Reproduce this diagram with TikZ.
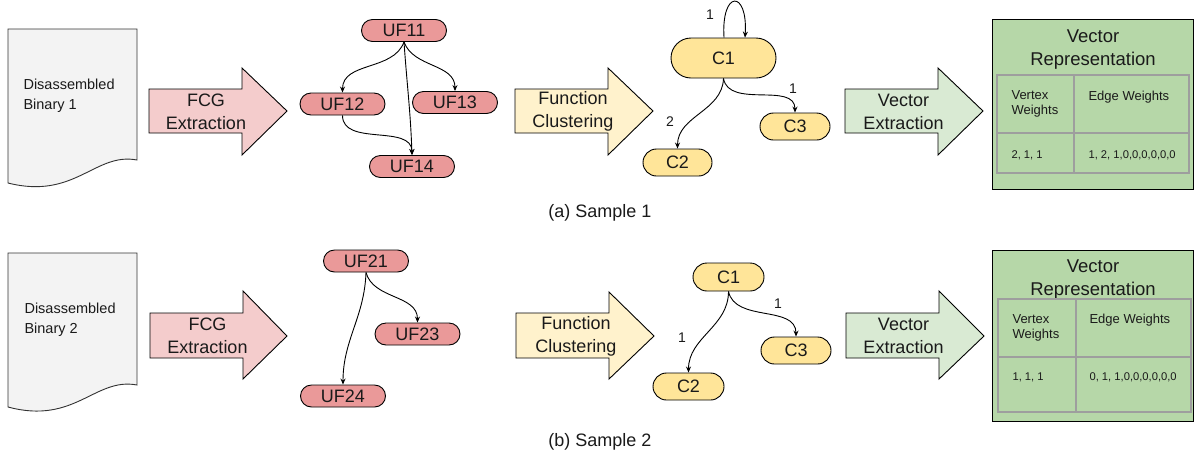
\documentclass[tikz,border=0pt]{standalone}
\usepackage{fontspec}
\setmainfont{Liberation Sans}
\usetikzlibrary{shapes.misc,arrows.meta}
\definecolor{docfill}{HTML}{F3F3F3}
\definecolor{redarrow}{HTML}{F4CCCC}
\definecolor{rednode}{HTML}{EA9999}
\definecolor{yelarrow}{HTML}{FFF2CC}
\definecolor{yelnode}{HTML}{FFE599}
\definecolor{grnarrow}{HTML}{D9EAD3}
\definecolor{grnbox}{HTML}{B6D7A8}
\definecolor{gridgray}{HTML}{9E9E9E}
\definecolor{txt}{HTML}{1A1A1A}
\tikzset{
  big/.style={font=\fontsize{18}{23}\selectfont, text=txt},
  mid/.style={font=\fontsize{14.5}{20}\selectfont, text=txt},
  small/.style={font=\fontsize{13}{14.5}\selectfont, text=txt},
  tiny/.style={font=\fontsize{11.2}{13}\selectfont, text=txt},
  lbl/.style={font=\fontsize{14}{16}\selectfont, text=txt},
  pill/.style={rounded rectangle, draw=black, line width=0.9pt, inner sep=0pt, big},
  ufnode/.style={pill, fill=rednode, minimum width=85pt, minimum height=22pt},
  cnode/.style={pill, fill=yelnode},
  fat/.style={draw=black, line width=0.9pt, line join=miter},
  docshape/.style={draw=black!80, line width=0.9pt, fill=docfill},
  edge/.style={draw=black, line width=0.9pt, -{Stealth[length=6pt,width=5pt,inset=2pt]}},
  grid/.style={draw=gridgray, line width=1.3pt},
}
\begin{document}
\begin{tikzpicture}[x=1pt,y=1pt]
\useasboundingbox (0,0) rectangle (1194,-456);

% ================= Sample 1 =================
\path[docshape] (8,-29) -- (137,-29) -- (137,-160) .. controls (95,-152) and (75,-200) .. (8,-183) -- cycle;
\node[mid, anchor=west, align=left] (doc1) at (20,-96) {Disassembled\\Binary 1};

\path[fat, fill=redarrow] (149,-89) -- (242,-89) -- (242,-68) -- (287,-111) -- (242,-155) -- (242,-133) -- (149,-133) -- cycle;
\node[big, align=center] (fcg1) at (206,-111.5) {FCG\\Extraction};

\node[ufnode] (uf11) at (404,-30.5) {UF11};
\node[ufnode] (uf12) at (342.5,-104) {UF12};
\node[ufnode] (uf13) at (455,-102.5) {UF13};
\node[ufnode] (uf14) at (412,-166.5) {UF14};
\draw[edge] (uf11.south) to[out=-110,in=90] (uf12.north);
\draw[edge] (uf11.south) to[out=-70,in=90] (uf13.north);
\draw[edge] (uf11.south) to[out=-86,in=92] (uf14.north);
\draw[edge] (uf12.south) to[out=-90,in=90] (uf14.north);

\path[fat, fill=yelarrow] (515,-89) -- (608,-89) -- (608,-68) -- (653,-111) -- (608,-155) -- (608,-133) -- (515,-133) -- cycle;
\node[big, align=center] (fc1) at (573,-111.5) {Function\\Clustering};

\node[cnode, minimum width=105pt, minimum height=40pt] (c11) at (723.5,-58) {C1};
\node[cnode, minimum width=69pt, minimum height=27pt] (c12) at (677.5,-162.5) {C2};
\node[cnode, minimum width=70pt, minimum height=27pt] (c13) at (795,-126.5) {C3};
\draw[edge] ([xshift=0.5pt]c11.north) .. controls +(-3,48) and +(3,48) .. ([xshift=21.5pt]c11.north);
\draw[edge] (c11.south) to[out=-92,in=90] (c12.north);
\draw[edge] (c11.south) to[out=-80,in=90] (c13.north);
\node[lbl] (w11) at (710,-15) {1};
\node[lbl] (w12) at (670,-122) {2};
\node[lbl] (w13) at (793,-89) {1};

\path[fat, fill=grnarrow] (845,-89) -- (938,-89) -- (938,-68) -- (983,-111) -- (938,-155) -- (938,-133) -- (845,-133) -- cycle;
\node[big, align=center] (ve1) at (903.5,-111.5) {Vector\\Extraction};

\path[draw=black, line width=0.9pt, fill=grnbox] (992,-19) rectangle (1193,-189);
\node[big, align=center, font=\fontsize{18.5}{23}\selectfont] (vr1) at (1093,-49.5) {Vector\\Representation};
\path[grid] (997,-75) rectangle (1189,-173);
\path[grid] (1074,-75) -- (1074,-173);
\path[grid] (997,-133) -- (1189,-133);
\node[small, anchor=west, align=left] (vw1) at (1008,-104) {Vertex\\Weights};
\node[small, anchor=west] (ew1) at (1085,-97) {Edge Weights};
\node[tiny, anchor=west] (vv1) at (1008,-155) {2, 1, 1};
\node[tiny, anchor=west] (ev1) at (1085,-155) {1, 2, 1,0,0,0,0,0,0};

\node[big] (cap1) at (600,-213) {(a) Sample 1};

% ================= Sample 2 =================
\path[docshape] (8,-253) -- (137,-253) -- (137,-385) .. controls (95,-377) and (75,-425) .. (8,-407) -- cycle;
\node[mid, anchor=west, align=left] (doc2) at (21,-320) {Disassembled\\Binary 2};

\path[fat, fill=redarrow] (150,-313) -- (243,-313) -- (243,-291) -- (287,-336) -- (243,-379) -- (243,-358) -- (150,-358) -- cycle;
\node[big, align=center] (fcg2) at (207.5,-336) {FCG\\Extraction};

\node[ufnode] (uf21) at (366,-261) {UF21};
\node[ufnode] (uf23) at (417.5,-334) {UF23};
\node[ufnode] (uf24) at (343,-396) {UF24};
\draw[edge] (uf21.south) to[out=-92,in=90] (uf24.north);
\draw[edge] (uf21.south) to[out=-75,in=90] (uf23.north);

\path[fat, fill=yelarrow] (516,-313) -- (609,-313) -- (609,-292) -- (654,-336) -- (609,-379) -- (609,-358) -- (516,-358) -- cycle;
\node[big, align=center] (fc2) at (576,-336) {Function\\Clustering};

\node[cnode, minimum width=71pt, minimum height=28pt] (c21) at (728.5,-277) {C1};
\node[cnode, minimum width=71pt, minimum height=27pt] (c22) at (688.5,-386.5) {C2};
\node[cnode, minimum width=70pt, minimum height=27pt] (c23) at (796,-350.5) {C3};
\draw[edge] (c21.south) to[out=-90,in=90] (c22.north);
\draw[edge] (c21.south) to[out=-78,in=90] (c23.north);
\node[lbl] (w22) at (682,-338) {1};
\node[lbl] (w23) at (778,-304) {1};

\path[fat, fill=grnarrow] (846,-313) -- (939,-313) -- (939,-291) -- (984,-336) -- (939,-379) -- (939,-358) -- (846,-358) -- cycle;
\node[big, align=center] (ve2) at (903.5,-336) {Vector\\Extraction};

\path[draw=black, line width=0.9pt, fill=grnbox] (992,-250) rectangle (1193,-421);
\node[big, align=center, font=\fontsize{18.5}{23}\selectfont] (vr2) at (1093,-279.5) {Vector\\Representation};
\path[grid] (998,-299) rectangle (1191,-412);
\path[grid] (1076,-299) -- (1076,-412);
\path[grid] (998,-357) -- (1191,-357);
\node[small, anchor=west, align=left] (vw2) at (1009,-328) {Vertex\\Weights};
\node[small, anchor=west] (ew2) at (1086,-320) {Edge Weights};
\node[tiny, anchor=west] (vv2) at (1009,-377) {1, 1, 1};
\node[tiny, anchor=west] (ev2) at (1086,-377) {0, 1, 1,0,0,0,0,0,0};

\node[big] (cap2) at (600,-442) {(b) Sample 2};
\end{tikzpicture}
\end{document}
